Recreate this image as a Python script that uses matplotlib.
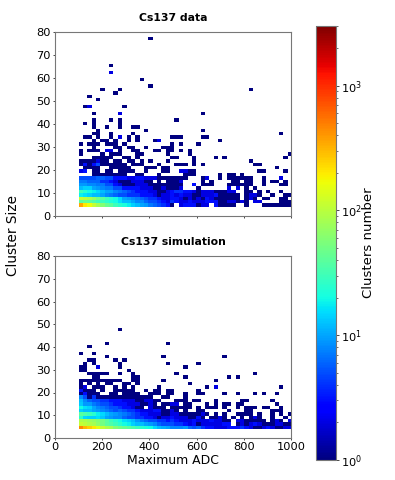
import numpy as np
import matplotlib
matplotlib.use("Agg")
import matplotlib.pyplot as plt
from matplotlib.colors import LogNorm

adc_edges = np.append(100 + 18.47 * np.arange(49), 1000)
size_edges = 3.9 + 1.48 * np.arange(52)

# counts per ADC bin for the lowest cluster-size rows (bottom row first)
data_dense = [
 [350,200,160,110,80,60,45,40,30,25,22,18,14,12,10,9,7,6,5,4,3,1,0,2,3,3,3,1,2,2,0,3,1,1,1,1,0,0,1,0,0,0,1,1,1,1,1,1,1],
 [40,45,40,35,30,28,25,22,20,16,12,12,10,8,8,6,5,5,4,3,2,4,3,2,2,3,2,2,2,3,3,3,1,1,2,2,1,2,1,0,2,2,0,0,0,0,1,1,1],
 [110,100,85,70,50,40,30,25,20,15,10,9,8,7,6,5,4,4,3,2,2,3,3,2,1,2,1,2,1,3,2,1,1,1,1,1,1,0,1,2,1,0,1,1,0,0,1,1,0],
 [18,16,14,12,12,10,8,7,6,5,5,4,4,4,3,3,3,2,1,2,2,3,2,3,2,2,1,1,2,2,2,3,1,1,1,1,1,0,1,2,2,1,0,0,1,0,0,1,1],
 [30,25,20,18,15,12,10,10,8,7,6,5,4,3,3,3,2,2,1,1,2,3,4,4,3,3,2,1,2,2,2,1,1,1,2,2,0,0,1,1,0,1,0,1,0,0,1,0,0],
 [12,14,14,10,9,8,7,7,5,5,3,3,3,3,2,2,2,1,1,2,1,1,1,2,0,0,0,1,0,0,0,0,0,0,2,0,2,0,1,0,1,0,0,0,0,0,0,0,0],
 [9,9,8,8,7,7,5,5,3,2,1,1,1,2,2,2,1,1,1,1,1,1,1,1,0,0,3,0,1,1,1,0,0,0,1,1,1,1,1,1,0,0,1,0,0,0,1,1,0],
 [7,7,6,6,6,4,4,3,2,1,1,1,2,2,2,1,1,0,1,0,1,1,1,2,0,0,0,0,1,0,1,0,0,0,0,1,1,0,1,1,0,0,1,0,1,1,0,1,0],
 [5,5,5,5,6,6,5,5,3,3,3,2,2,3,3,2,2,2,1,1,1,1,1,1,1,0,0,0,1,2,0,0,1,0,1,1,1,1,1,1,0,0,1,0,0,0,2,0,0],
]
# ADC bins holding single clusters, by size row
data_sparse = {
 9:[3,4,5,6,7,8,9,10,13,14,18,24,25,26,32,34,35,37],
 10:[0,1,3,4,6,7,9,10,11,12,15,19,20,23,24,25,26,41,42,47],
 11:[1,2,3,4,7,8,9,10,11,15,16,17,19,20,45],
 12:[0,1,2,3,4,5,6,7,8,9,10,12,13,14,18,22,23,24,26,28,40,41],
 13:[0,1,2,3,4,5,6,8,9,11,12,14,16,20,26,39],
 14:[3,4,5,6,7,10,11,13,21,22,26,31,33,47],
 15:[0,5,7,8,9,13,14,20,25,48],
 16:[0,2,3,4,6,7,9,12,13,17,18,20,21,23,25],
 17:[3,8,9,11,12,15,19,20,21],
 18:[0,2,3,4,6,7,8,10,21,23,27],
 19:[3,5,6,8,11,13,17,18,32],
 20:[1,2,4,7,9,11,13,21,22,23,28,29],
 21:[3,4,7,12,46],
 22:[4,15,28],
 23:[3,6,9,12,13],
 24:[1,3,9],
 25:[3,7,9,22],
 27:[3,9,28],
 29:[1,2,10],
 31:[4],
 32:[2],
 33:[8],
 34:[5,9,39],
 35:[16],
 37:[14],
 39:[7],
 41:[7],
 49:[16],
}
# (ADC bin, size row, count) cells brighter than one cluster
data_extra = [(7,39,2),(2,29,2),(9,27,2),(9,20,2),(18,19,2),(6,16,2),(7,16,2),(4,13,2),(1,12,3),(3,12,3),(4,12,5),
              (0,10,2),(1,10,3),(23,10,2),(24,10,2)]

sim_dense = [
 [450,300,250,200,150,110,90,80,60,50,45,40,35,30,25,22,20,15,12,11,10,8,8,8,9,6,5,6,4,3,3,2,2,2,3,3,3,4,3,2,1,1,2,3,2,1,1,2,2],
 [110,100,90,80,65,50,40,35,30,25,20,18,14,12,12,10,9,8,6,5,5,5,4,4,3,2,3,1,2,2,2,2,2,3,3,0,1,2,1,2,3,2,1,1,1,2,2,1,1],
 [90,85,75,70,60,50,40,30,25,20,16,14,12,9,7,6,5,5,4,4,3,4,3,2,2,2,3,2,2,2,3,2,2,1,1,0,2,2,1,1,1,1,1,0,1,2,1,0,2],
 [25,15,14,14,16,13,10,9,8,8,6,5,5,4,4,3,3,2,1,2,2,3,2,2,2,1,1,3,1,0,1,1,2,1,0,1,0,1,0,1,2,1,0,0,1,0,0,1,0],
 [40,35,30,25,18,15,12,10,9,8,7,6,5,4,3,3,2,2,2,1,1,2,2,1,1,1,1,1,2,1,0,1,0,1,0,0,1,1,1,1,0,1,0,0,1,0,1,0,1],
 [14,12,12,10,9,8,7,6,5,6,5,4,4,3,2,2,2,3,3,1,1,2,1,0,1,0,0,1,1,0,0,0,0,0,1,0,0,0,1,1,0,0,0,0,1,1,1,0,0],
 [20,16,14,10,8,7,6,5,5,4,3,3,2,1,1,0,2,1,1,1,0,1,1,1,1,1,0,1,0,1,1,1,0,1,0,0,1,0,1,1,1,0,1,1,0,0,1,0,0],
 [13,9,9,7,6,5,5,4,3,3,3,2,2,2,1,1,2,1,0,1,1,2,2,0,1,1,0,0,0,1,0,1,0,1,1,0,1,1,0,0,0,0,0,0,0,1,0,0,0],
 [12,8,6,5,5,4,4,3,3,3,2,2,2,1,1,2,2,1,1,0,0,0,1,1,1,0,1,1,0,0,0,1,0,0,0,0,0,1,1,0,0,0,0,0,1,0,0,0,0],
]
sim_sparse = {
 9:[1,2,3,4,5,6,7,8,9,10,11,12,13,14,15,16,19,20,24],
 10:[0,1,2,3,4,7,8,10,11,12,13,16,17,18,20,21,24,27,28,33,36,40,42,45],
 11:[0,1,2,3,5,8,9,10,11,12,15,17,18,20,21,27],
 12:[0,1,3,4,5,8,10,12,18,29,31,46],
 13:[0,2,4,6,7,10,11,13,25],
 14:[0,1,2,3,4,5,6,7,8,9,12,13,19,31],
 15:[3,4,12,13,24,34,36],
 16:[2,3,4,5,6,9,12,22,40],
 17:[0,1,11],
 18:[0,1,4,9,24],
 19:[1,3,9,20,27],
 20:[2,3,8,10],
 21:[6,19,33],
 22:[0,3],
 24:[2],
 25:[6,20],
 29:[9],
}
sim_extra = [(4,18,2),(31,12,2),(0,11,3),(1,12,2),(1,10,3),(0,9,8),(1,9,5),(3,9,4)]

titles = ["Cs137 data", "Cs137 simulation"]
colorbar_ticks = [1, 10, 100, 1000]


def build(dense, sparse, extra):
    z = np.zeros((len(size_edges) - 1, len(adc_edges) - 1))
    for k, row in enumerate(dense):
        z[k, :len(row)] = row
    for k, bins in sparse.items():
        z[k, bins] = 1
    for i, k, c in extra:
        z[k, i] = c
    return np.ma.masked_less(z, 1)


W, H = 395, 480
fig = plt.figure(figsize=(W / 100, H / 100), dpi=100)
norm = LogNorm(vmin=1, vmax=3000)
ax1 = fig.add_axes([55 / W, 1 - 215.7 / H, 236 / W, 183.7 / H])
ax2 = fig.add_axes([55 / W, 1 - 438 / H, 236 / W, 182 / H])
grey = "#777777"
for ax, (d, s, e), title in zip(
        (ax1, ax2), ((data_dense, data_sparse, data_extra), (sim_dense, sim_sparse, sim_extra)), titles):
    mesh = ax.pcolormesh(adc_edges, size_edges, build(d, s, e), cmap="jet", norm=norm, linewidth=0, rasterized=True)
    ax.set_xlim(0, 1000)
    ax.set_ylim(0, 80)
    ax.set_yticks(range(0, 81, 10))
    ax.set_xticks(range(0, 1001, 200))
    ax.tick_params(labelsize=8.2, length=1.5, width=0.5, pad=1.5, colors="black")
    ax.set_title(title, fontsize=7.8, fontweight="bold", pad=8)
    for sp in ax.spines.values():
        sp.set_linewidth(0.8)
        sp.set_color(grey)
ax1.tick_params(labelbottom=False)
ax2.set_xlabel("Maximum ADC", fontsize=8.9, labelpad=1)
fig.text(13 / W, 1 - 235 / H, "Cluster Size", rotation=90, fontsize=9.8, va="center", ha="center")

cax = fig.add_axes([316 / W, 1 - 460 / H, 20 / W, 434 / H])
cb = fig.colorbar(mesh, cax=cax)
cb.set_ticks(colorbar_ticks)
cb.ax.tick_params(labelsize=8.2, length=1.8, width=0.5, pad=1.5)
cb.ax.tick_params(which="minor", length=1.2, width=0.4)
cb.outline.set_linewidth(0.8)
cb.outline.set_edgecolor(grey)
cb.set_label("Clusters number", fontsize=9.5, labelpad=0.5)

fig.savefig("out.png", dpi=100)
